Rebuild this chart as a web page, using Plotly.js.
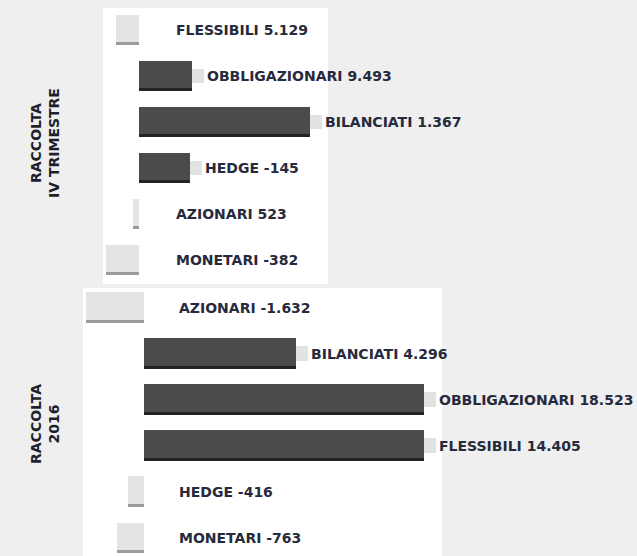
<!DOCTYPE html>
<html>
<head>
<meta charset="utf-8">
<script src="https://cdn.plot.ly/plotly-3.0.1.min.js"></script>
<style>html,body{margin:0;padding:0;background:#efefef;}#chart{width:637px;height:556px;}</style>
</head>
<body>
<div id="chart"></div>
<script>
// ---- data ----
// Panel 1: RACCOLTA IV TRIMESTRE
const topCategories = ["FLESSIBILI", "OBBLIGAZIONARI", "BILANCIATI", "HEDGE", "AZIONARI", "MONETARI"];
const topValueText  = ["5.129", "9.493", "1.367", "-145", "523", "-382"];
// bar lengths as drawn (arbitrary drawing units; light bars point left)
const topBars       = [-23, 53, 171, 51, -6, -33];

// Panel 2: RACCOLTA 2016
const bottomCategories = ["AZIONARI", "BILANCIATI", "OBBLIGAZIONARI", "FLESSIBILI", "HEDGE", "MONETARI"];
const bottomValueText  = ["-1.632", "4.296", "18.523", "14.405", "-416", "-763"];
const bottomBars       = [-58, 152, 280, 280, -16, -27];

const panelTitles = ["RACCOLTA<br>IV TRIMESTRE", "RACCOLTA<br>2016"];

// ---- styling ----
const DARK = "#4b4b4b", DARK_EDGE = "#232323";
const LIGHT = "#e4e5e2", LIGHT_EDGE = "#9c9c9c";
const TEXT = "#272a3c";
const BW = 0.67, EW = 0.07;
const FONT = "DejaVu Sans";

function panelTraces(cats, vals, xa, ya) {
  const fill = vals.map(v => v > 0 ? DARK : LIGHT);
  const edge = vals.map(v => v > 0 ? DARK_EDGE : LIGHT_EDGE);
  const pos = vals.filter(v => v > 0);
  const posCats = cats.filter((c, i) => vals[i] > 0);
  return [
    {type: "bar", orientation: "h", y: cats, x: vals, xaxis: xa, yaxis: ya,
     width: BW, offset: -BW / 2, marker: {color: fill, line: {width: 0}},
     hoverinfo: "skip", showlegend: false},
    {type: "bar", orientation: "h", y: cats, x: vals, xaxis: xa, yaxis: ya,
     width: EW, offset: BW / 2 - EW, marker: {color: edge, line: {width: 0}},
     hoverinfo: "skip", showlegend: false},
    // connector strip between dark bar end and its label
    {type: "bar", orientation: "h", y: posCats, x: pos.map(() => 12), base: pos,
     xaxis: xa, yaxis: ya, width: 0.32, offset: -0.16,
     marker: {color: "#e2e2e2", line: {width: 0}}, hoverinfo: "skip", showlegend: false}
  ];
}

const data = [].concat(
  panelTraces(topCategories, topBars, "x", "y"),
  panelTraces(bottomCategories, bottomBars, "x2", "y2")
);

function labels(cats, vals, texts, xa, ya, lightX) {
  return cats.map((c, i) => ({
    xref: xa, yref: ya, x: vals[i] > 0 ? vals[i] + 13 : lightX, y: c,
    text: c + " " + texts[i], showarrow: false, xanchor: "left", yanchor: "middle",
    font: {family: FONT, size: 14, color: TEXT, weight: 700}
  }));
}

const titleFont = {family: FONT, size: 14, color: "#1d1f2b", weight: 700};
const annotations = [].concat(
  labels(topCategories, topBars, topValueText, "x", "y", 35),
  labels(bottomCategories, bottomBars, bottomValueText, "x2", "y2", 33),
  [
    {xref: "paper", yref: "paper", x: 45 / 637, y: 1 - 143 / 556, text: panelTitles[0],
     textangle: -90, showarrow: false, xanchor: "center", yanchor: "middle", font: titleFont},
    {xref: "paper", yref: "paper", x: 45 / 637, y: 1 - 424 / 556, text: panelTitles[1],
     textangle: -90, showarrow: false, xanchor: "center", yanchor: "middle", font: titleFont}
  ]
);

const hidden = {showgrid: false, zeroline: false, showticklabels: false, ticks: "", showline: false, fixedrange: true};

const layout = {
  width: 637, height: 556,
  margin: {l: 0, r: 0, t: 0, b: 0, pad: 0},
  paper_bgcolor: "#efefef", plot_bgcolor: "rgba(0,0,0,0)",
  barmode: "overlay", bargap: 0,
  xaxis:  Object.assign({}, hidden, {domain: [0, 1], range: [-139, 498], anchor: "y"}),
  yaxis:  Object.assign({}, hidden, {domain: [1 - 283 / 556, 1 - 7 / 556], type: "category",
           categoryorder: "array", categoryarray: topCategories, range: [5.5, -0.5], anchor: "x"}),
  xaxis2: Object.assign({}, hidden, {domain: [0, 1], range: [-144, 493], anchor: "y2"}),
  yaxis2: Object.assign({}, hidden, {domain: [0, 1 - 285 / 556], type: "category",
           categoryorder: "array", categoryarray: bottomCategories, range: [5.39, -0.488], anchor: "x2"}),
  shapes: [
    {type: "rect", xref: "paper", yref: "paper", x0: 103 / 637, x1: 328 / 637,
     y0: 1 - 284 / 556, y1: 1 - 8 / 556, fillcolor: "#ffffff", line: {width: 0}, layer: "below"},
    {type: "rect", xref: "paper", yref: "paper", x0: 83 / 637, x1: 442 / 637,
     y0: 0, y1: 1 - 288 / 556, fillcolor: "#ffffff", line: {width: 0}, layer: "below"}
  ],
  annotations: annotations
};

Plotly.newPlot("chart", data, layout, {displayModeBar: false, staticPlot: true});
</script>
</body>
</html>
